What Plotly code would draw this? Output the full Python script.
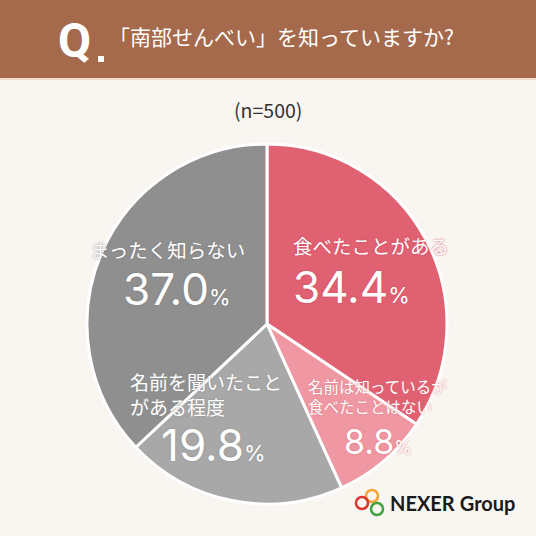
import plotly.graph_objects as go

W, H = 536, 536

# data
categories = ["食べたことがある", "名前は知っているが<br>食べたことはない",
              "名前を聞いたこと<br>がある程度", "まったく知らない"]
values = [34.4, 8.8, 19.8, 37.0]
colors = ["#E06172", "#EF98A3", "#A8A8A8", "#8F8F8F"]
title_text = "「南部せんべい」を知っていますか?"
sample_note = "(n=500)"

JP = "Noto Sans CJK JP"
NUM = "Inter"


def px_x(v):
    return v / W


def px_y(v):
    return 1 - v / H


fig = go.Figure()

# pie centred near (267, 324) with radius ~180 px
fig.add_trace(go.Pie(
    labels=[c.replace("<br>", "") for c in categories],
    values=values,
    sort=False,
    direction="clockwise",
    rotation=0,
    textinfo="none",
    hoverinfo="skip",
    marker=dict(colors=colors, line=dict(color="#FFFFFF", width=3)),
    domain=dict(x=[px_x(87), px_x(447)], y=[px_y(504), px_y(144)]),
    showlegend=False,
))

shapes = [
    dict(type="rect", xref="paper", yref="paper", x0=0, x1=1,
         y0=px_y(78), y1=1, fillcolor="#A56A4B", line_width=0, layer="below"),
    dict(type="rect", xref="paper", yref="paper", x0=0, x1=1,
         y0=px_y(80), y1=px_y(78), fillcolor="#F4DCCB", line_width=0, layer="below"),
    # square dot of "Q."
    dict(type="rect", xref="paper", yref="paper", x0=px_x(98), x1=px_x(104),
         y0=px_y(62), y1=px_y(56), fillcolor="#FFFFFF", line_width=0),
]

# NEXER logo rings
for cx, cy, c in [(372, 496, "#F2A533"), (362, 503, "#D9362F"), (377, 509, "#3FA344")]:
    shapes.append(dict(type="circle", xref="paper", yref="paper",
                       x0=px_x(cx - 6), x1=px_x(cx + 6),
                       y0=px_y(cy + 6), y1=px_y(cy - 6),
                       line=dict(color=c, width=2.5)))

ann = []


def add_text(x, y, text, size, color="#FFFFFF", family=JP, shadow=None, xanchor="left"):
    font = dict(family=family, size=size, color=color)
    if shadow:
        font["shadow"] = shadow
    ann.append(dict(xref="paper", yref="paper", x=px_x(x), y=px_y(y),
                    xanchor=xanchor, yanchor="middle", align="left",
                    text=text, showarrow=False, font=font))


def pct(v, size):
    return f"{v:.1f}<span style='font-size:{size}px'>%</span>"


# header
add_text(56, 40, "<b>Q</b>", 48, family="Roboto")
add_text(107, 36, title_text, 21)
add_text(W / 2, 110, sample_note, 19.5, color="#333333", xanchor="center")

# slice labels
shadows = ["0px 0px 2px #C94A5C", "0px 0px 2px #D9727F",
           "0px 0px 2px #8F8F8F", "0px 0px 2px #7A7A7A"]
label_pos = [(291, 246, 19.5), (306, 396, 15.5), (128, 394, 19)]
label_pos.append((88, 249, 19.5))
pct_pos = [(291, 287, 44, 22), (342, 441, 34, 18), (159, 445, 44, 22), (121, 289, 44, 22)]

for i, cat in enumerate(categories):
    lx, ly, ls = label_pos[i]
    add_text(lx, ly, cat, ls, shadow=shadows[i])
    nx, ny, ns, ps = pct_pos[i]
    add_text(nx, ny, pct(values[i], ps), ns, family=NUM, shadow=shadows[i])

# logo text
add_text(388, 503, "<b>NEXER</b> <b>Group</b>", 20, color="#1A1A1A", family="Lato")

fig.update_layout(
    width=W, height=H,
    margin=dict(l=0, r=0, t=0, b=0),
    paper_bgcolor="#F9F5F1",
    plot_bgcolor="#F9F5F1",
    shapes=shapes,
    annotations=ann,
)

fig.write_html("out.html", config={"displayModeBar": False},
               post_script="document.body.style.margin='0';"
                           "document.body.style.overflow='hidden';")
